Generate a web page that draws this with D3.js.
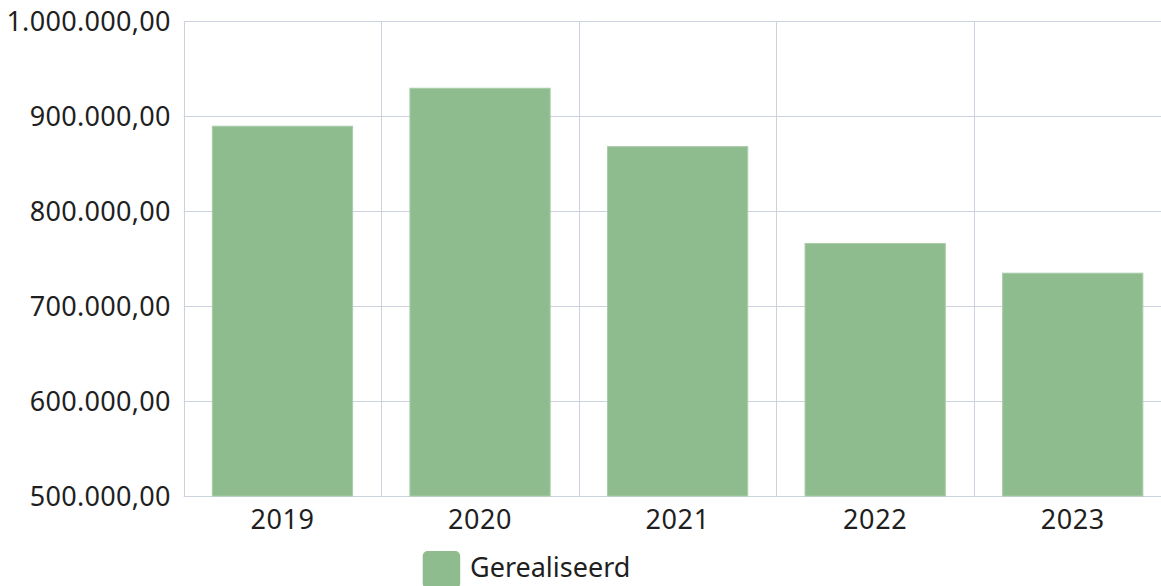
<!DOCTYPE html>
<html>
<head>
<meta charset="utf-8">
<script src="https://cdn.jsdelivr.net/npm/d3@7"></script>
<style>
  html, body { margin: 0; padding: 0; background: #fff; overflow: hidden; }
  text { font-family: "Noto Sans", "Open Sans", sans-serif; fill: #1f1f1f; }
</style>
</head>
<body>
<svg id="chart" width="1161" height="586"></svg>
<script>
const categories = ["2019", "2020", "2021", "2022", "2023"];
const values = [889500, 929500, 868000, 766000, 734700];
const seriesName = "Gerealiseerd";
const yTicks = [500000, 600000, 700000, 800000, 900000, 1000000];

const margin = { left: 183.7, top: 21.3, right: -10.5, bottom: 90 };
const W = 1161, H = 586;
const svg = d3.select("#chart");

const x = d3.scaleBand()
  .domain(categories)
  .range([margin.left, W - margin.right])
  .paddingInner(0.29)
  .paddingOuter(0.145);
const xGrid = d3.scaleBand().domain(categories).range([margin.left, W - margin.right]).padding(0);
const y = d3.scaleLinear().domain([500000, 1000000]).range([496, margin.top]);

const fmt = v => d3.format(",.2f")(v).replace(/,/g, "#").replace(/\./g, ",").replace(/#/g, ".");

const gridColor = "#ccd3df";
// horizontal grid
svg.append("g").selectAll("line").data(yTicks).join("line")
  .attr("x1", margin.left).attr("x2", W - margin.right)
  .attr("y1", d => Math.round(y(d)) + 0.5).attr("y2", d => Math.round(y(d)) + 0.5)
  .attr("stroke", gridColor).attr("stroke-width", 1);
// vertical grid
svg.append("g").selectAll("line").data(categories).join("line")
  .attr("x1", d => Math.round(xGrid(d)) + 0.5).attr("x2", d => Math.round(xGrid(d)) + 0.5)
  .attr("y1", y(1000000)).attr("y2", y(500000))
  .attr("stroke", gridColor).attr("stroke-width", 1);

// bars
svg.append("g").selectAll("rect").data(values).join("rect")
  .attr("x", (d, i) => x(categories[i]))
  .attr("width", x.bandwidth())
  .attr("y", d => y(d))
  .attr("height", d => y(500000) - y(d))
  .attr("fill", "#8fbc8f")
  .attr("stroke", "#a9cda9").attr("stroke-width", 1);

// y labels
svg.append("g").selectAll("text").data(yTicks).join("text")
  .attr("x", margin.left - 13)
  .attr("y", d => y(d))
  .attr("dy", "0.36em")
  .attr("text-anchor", "end")
  .attr("font-size", 27)
  .attr("letter-spacing", 0.3)
  .text(d => fmt(d));

// x labels
svg.append("g").selectAll("text").data(categories).join("text")
  .attr("x", d => xGrid(d) + xGrid.bandwidth() / 2)
  .attr("y", 529)
  .attr("text-anchor", "middle")
  .attr("font-size", 27)
  .attr("letter-spacing", 0.6)
  .text(d => d);

// legend
const lg = svg.append("g");
lg.append("rect").attr("x", 422.7).attr("y", 551).attr("width", 37.5).attr("height", 37.5)
  .attr("rx", 5).attr("fill", "#8fbc8f");
lg.append("text").attr("x", 470).attr("y", 577).attr("font-size", 27).text(seriesName);
</script>
</body>
</html>
